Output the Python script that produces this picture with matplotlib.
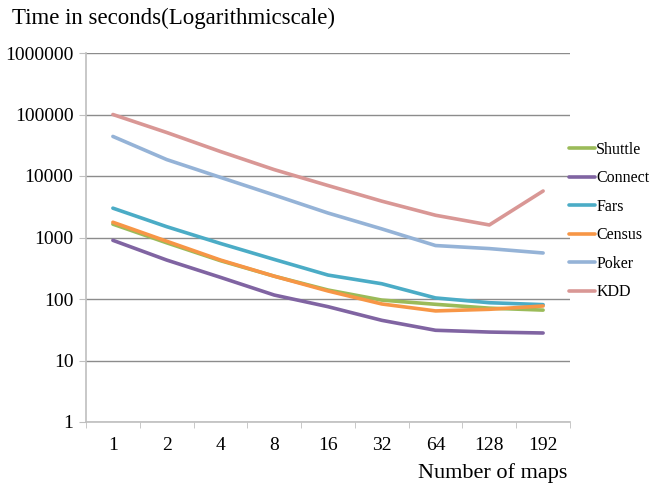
import matplotlib
matplotlib.use("Agg")
import matplotlib.pyplot as plt
from matplotlib.ticker import FixedLocator, NullFormatter

plt.rcParams['font.family'] = ['Liberation Serif', 'DejaVu Serif']

maps = ['1', '2', '4', '8', '16', '32', '64', '128', '192']

shuttle = [1650, 820, 420, 235, 140, 96, 82, 71, 66]
connect = [900, 430, 225, 116, 75, 45, 31, 29, 28]
fars = [3000, 1500, 800, 440, 245, 177, 104, 87, 81]
census = [1770, 870, 430, 235, 135, 83, 64, 68, 77]
poker = [44000, 18500, 9500, 4900, 2500, 1380, 740, 660, 560]
kdd = [100000, 51000, 25000, 12700, 7000, 3900, 2300, 1600, 5700]

names = ['Shuttle', 'Connect', 'Fars', 'Census', 'Poker', 'KDD']
series = [shuttle, connect, fars, census, poker, kdd]
colors = ['#9BBB59', '#8064A2', '#4BACC6', '#F79646', '#95B3D7', '#D99795']

fig = plt.figure(figsize=(6.6, 4.87), dpi=100)
ax = fig.add_axes([86 / 660, 1 - 422 / 487, 484 / 660, 369 / 487])

x = list(range(len(maps)))
for name, vals, c in zip(names, series, colors):
    ax.plot(x, vals, color=c, lw=2.6, label=name, solid_capstyle='round')

ax.set_yscale('log')
ax.set_ylim(1, 1000000)
ax.set_xlim(-0.5, len(maps) - 0.5)
yt = [1, 10, 100, 1000, 10000, 100000, 1000000]
ax.set_yticks(yt)
ax.set_yticklabels([str(v) for v in yt])
ax.yaxis.set_minor_locator(FixedLocator([]))
ax.yaxis.set_minor_formatter(NullFormatter())
ax.grid(axis='y', color='#8c8c8c', lw=1)
ax.set_axisbelow(True)

ax.set_xticks(x)
ax.set_xticklabels(maps)
ax.tick_params(axis='x', which='major', length=0, pad=11, labelsize=14)
ax.set_xticks([i - 0.5 for i in range(len(maps) + 1)], minor=True)
ax.tick_params(axis='x', which='minor', length=4, color='#bfbfbf', direction='out')
ax.tick_params(axis='y', which='major', length=5, color='#bfbfbf', pad=4, labelsize=14)

for s in ['top', 'right']:
    ax.spines[s].set_visible(False)
for s in ['left', 'bottom']:
    ax.spines[s].set_color('#bfbfbf')
    ax.spines[s].set_linewidth(1.2)

fig.text(12 / 660, 1 - 8 / 487, 'Time in seconds(Logarithmicscale)', fontsize=16.5, va='top', ha='left')
fig.text(567 / 660, 1 - 463 / 487, 'Number of maps', fontsize=16, va='top', ha='right')

ax.legend(loc='upper left', bbox_to_anchor=(569 / 660, 1 - 142 / 487), bbox_transform=fig.transFigure,
          frameon=False, fontsize=11.5, handlelength=1.6, handletextpad=0.1, labelspacing=0.78,
          borderaxespad=0, borderpad=0)

fig.savefig('out.png', dpi=100)
